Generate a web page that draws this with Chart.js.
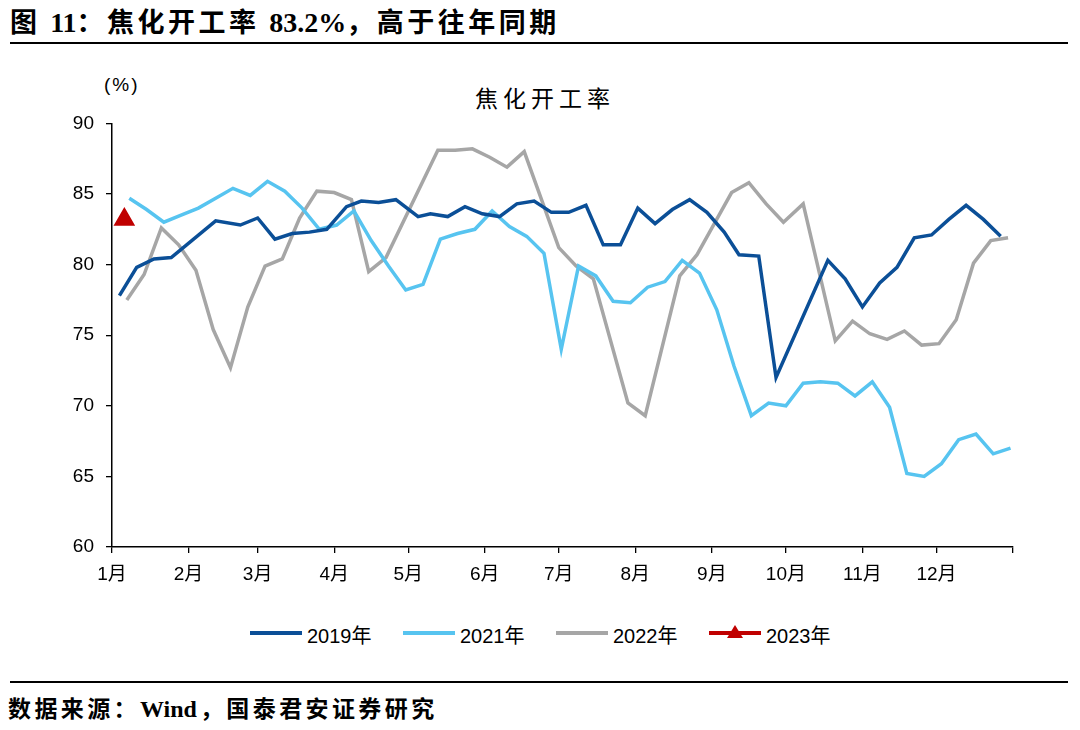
<!DOCTYPE html>
<html>
<head>
<meta charset="utf-8">
<script src="https://cdn.jsdelivr.net/npm/chart.js"></script>
<style>
  body { margin: 0; background: #fff; width: 1080px; height: 730px; position: relative; overflow: hidden; font-family: "Noto Sans CJK SC", sans-serif; color: #000; }
  .num { font-family: "Liberation Serif", "Times New Roman", serif; letter-spacing: 0; }
  #title { position: absolute; left: 10px; top: 4px; font-size: 27px; font-weight: bold; letter-spacing: 3.5px; line-height: 34px; white-space: nowrap; }
  #title .num { font-size: 28px; }
  .rule { position: absolute; left: 10px; width: 1058px; height: 2px; background: #000; }
  #unit { position: absolute; left: 104px; top: 74px; font: 19px "Liberation Sans", sans-serif; letter-spacing: 2px; }
  #ctitle { position: absolute; left: 0; width: 1080px; top: 83px; text-align: center; font-size: 23px; letter-spacing: 5px; line-height: 28px; padding-left: 5px; }
  #wrap { position: absolute; left: 0; top: 100px; width: 1080px; height: 500px; }
  #legend { position: absolute; left: 0; top: 618px; width: 1080px; height: 30px; }
  .item { position: absolute; top: 0; height: 30px; }
  .item .ln { position: absolute; left: 0; top: 13px; width: 52px; height: 4px; }
  .item .tri { position: absolute; left: 18px; top: 7px; width: 0; height: 0; border-left: 8px solid transparent; border-right: 8px solid transparent; border-bottom: 13px solid #C00000; }
  .item .tx { position: absolute; left: 57px; top: 2px; font: 20px "Liberation Sans", "Noto Sans CJK SC", sans-serif; white-space: nowrap; }
  #source { position: absolute; left: 8px; top: 692px; font-size: 23px; font-weight: bold; letter-spacing: 3.4px; line-height: 30px; white-space: nowrap; }
  #source .num { font-size: 24px; margin-right: 3px; }
</style>
</head>
<body>
<div id="title">图 <span class="num">11</span>：焦化开工率 <span class="num">83.2%</span>，高于往年同期</div>
<div class="rule" style="top:42px"></div>
<div id="unit">(%)</div>
<div id="ctitle">焦化开工率</div>
<div id="wrap"><canvas id="chart"></canvas></div>
<div id="legend"></div>
<div class="rule" style="top:681px"></div>
<div id="source">数据来源：<span class="num">Wind</span>，国泰君安证券研究</div>

<script>
// month boundaries (day of year) and labels
var monthStarts = [0, 31, 59, 90, 120, 151, 181, 212, 243, 273, 304, 334, 365];
var monthLabels = ['1月', '2月', '3月', '4月', '5月', '6月', '7月', '8月', '9月', '10月', '11月', '12月'];

// 2019
var days2019 = [3, 10, 17, 24, 42, 52, 59, 66, 73, 80, 87, 95, 101, 108, 115, 124, 129, 136, 143, 150,
  157, 164, 171, 178, 185, 192, 199, 206, 213, 220, 227, 234, 241, 248, 254, 262, 269, 290, 297, 304,
  311, 318, 325, 332, 339, 346, 353, 360];
var vals2019 = [77.8, 79.8, 80.4, 80.5, 83.1, 82.8, 83.3, 81.8, 82.2, 82.3, 82.5, 84.1, 84.5, 84.4, 84.6, 83.4, 83.6, 83.4, 84.1, 83.6,
  83.4, 84.3, 84.5, 83.7, 83.7, 84.2, 81.4, 81.4, 84.0, 82.9, 83.9, 84.6, 83.7, 82.3, 80.7, 80.6, 72.0, 80.3, 79.0, 77.0,
  78.7, 79.8, 81.9, 82.1, 83.2, 84.2, 83.2, 82.0];

// 2021
var days2021 = [7, 14, 21, 28, 35, 42, 49, 56, 63, 70, 77, 84, 91, 98, 105, 112, 119, 126, 133, 140,
  147, 154, 161, 168, 175, 182, 189, 196, 203, 210, 217, 224, 231, 238, 245, 252, 259, 266, 273, 280,
  287, 294, 301, 308, 315, 322, 329, 336, 343, 350, 357, 364];
var vals2021 = [84.7, 83.9, 83.0, 83.5, 84.0, 84.7, 85.4, 84.9, 85.9, 85.2, 84.0, 82.5, 82.8, 83.8, 81.7, 79.9, 78.2, 78.6, 81.8, 82.2,
  82.5, 83.8, 82.7, 82.0, 80.8, 74.0, 79.9, 79.2, 77.4, 77.3, 78.4, 78.8, 80.3, 79.4, 76.8, 72.8, 69.3, 70.2, 70.0, 71.6,
  71.7, 71.6, 70.7, 71.7, 69.9, 65.2, 65.0, 65.9, 67.6, 68.0, 66.6, 67.0];

// 2022
var days2022 = [6, 13, 20, 27, 34, 41, 48, 55, 62, 69, 76, 83, 90, 97, 104, 111, 132, 139, 146, 153,
  160, 167, 181, 188, 195, 209, 216, 230, 237, 244, 251, 258, 265, 272, 280, 293, 300, 307, 314, 321,
  328, 335, 342, 349, 356, 363];
var vals2022 = [77.5, 79.3, 82.6, 81.4, 79.6, 75.4, 72.7, 77.0, 79.9, 80.4, 83.3, 85.2, 85.1, 84.6, 79.5, 80.5, 88.1, 88.1, 88.2, 87.6,
  86.9, 88.0, 81.2, 79.9, 79.0, 70.2, 69.3, 79.2, 80.7, 82.9, 85.1, 85.8, 84.3, 83.0, 84.3, 74.6, 76.0, 75.1, 74.7, 75.3,
  74.3, 74.4, 76.1, 80.1, 81.7, 81.9];

// 2023
var days2023 = [5];
var vals2023 = [83.2];

function pts(days, vals) {
  return days.map(function(d, i) { return { x: d, y: vals[i] }; });
}

var series = [
  { label: '2019年', color: '#0B4F97', data: pts(days2019, vals2019) },
  { label: '2021年', color: '#57C4F0', data: pts(days2021, vals2021) },
  { label: '2022年', color: '#A6A6A6', data: pts(days2022, vals2022) },
  { label: '2023年', color: '#C00000', data: pts(days2023, vals2023), marker: true }
];

var tickFont = { family: '"Liberation Sans", "Noto Sans CJK SC", sans-serif', size: 19 };

var ctx = document.getElementById('chart').getContext('2d');
new Chart(ctx, {
  type: 'line',
  data: {
    datasets: series.map(function(s) {
      return {
        label: s.label,
        data: s.data,
        borderColor: s.color,
        backgroundColor: s.color,
        borderWidth: 3.5,
        showLine: !s.marker,
        pointRadius: s.marker ? 9 : 0,
        pointStyle: s.marker ? 'triangle' : 'circle',
        tension: 0
      };
    })
  },
  options: {
    responsive: true,
    maintainAspectRatio: false,
    animation: false,
    layout: { padding: { left: 0, right: 67, top: 22, bottom: 0 } },
    plugins: { legend: { display: false }, tooltip: { enabled: false } },
    scales: {
      x: {
        type: 'linear',
        min: 0,
        max: 365,
        afterBuildTicks: function(scale) {
          scale.ticks = monthStarts.map(function(v) { return { value: v }; });
        },
        afterFit: function(scale) { scale.height = 53; },
        ticks: {
          autoSkip: false,
          maxRotation: 0,
          padding: 10,
          color: '#000',
          font: tickFont,
          callback: function(v, i) { return monthLabels[i] || ''; }
        },
        grid: { drawOnChartArea: false, drawTicks: true, tickLength: 6, color: '#000', lineWidth: 1.3 },
        border: { display: true, color: '#000', width: 1.5 }
      },
      y: {
        min: 60,
        max: 90,
        afterFit: function(scale) { scale.width = 112; },
        ticks: { stepSize: 5, padding: 12, color: '#000', font: tickFont },
        grid: { drawOnChartArea: false, drawTicks: true, tickLength: 6, color: '#000', lineWidth: 1.3 },
        border: { display: true, color: '#000', width: 1.5 }
      }
    }
  }
});

// legend
var legend = document.getElementById('legend');
series.forEach(function(s, i) {
  var item = document.createElement('div');
  item.className = 'item';
  item.style.left = (250 + i * 153) + 'px';
  var ln = document.createElement('div');
  ln.className = 'ln';
  ln.style.background = s.color;
  item.appendChild(ln);
  if (s.marker) {
    var tri = document.createElement('div');
    tri.className = 'tri';
    item.appendChild(tri);
  }
  var tx = document.createElement('div');
  tx.className = 'tx';
  tx.textContent = s.label;
  item.appendChild(tx);
  legend.appendChild(item);
});
</script>
</body>
</html>
